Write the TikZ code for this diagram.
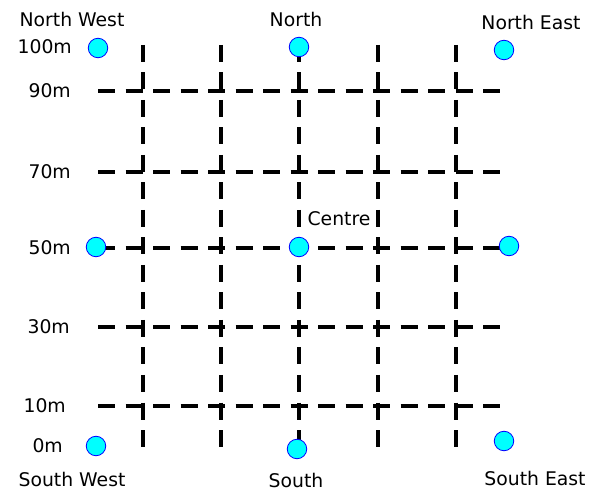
\documentclass[tikz,border=0pt]{standalone}
\usepackage{fontspec}
\setmainfont{DejaVu Sans}
\definecolor{aqua}{RGB}{0,255,255}
\definecolor{ringblue}{RGB}{0,0,255}
\begin{document}
\begin{tikzpicture}[x=1pt,y=-1pt,
  gridline/.style={line width=4pt,dash pattern=on 17pt off 10.5pt,black},
  station/.style={circle,draw=ringblue,fill=aqua,line width=0.8pt,minimum size=19.5pt,inner sep=0pt},
  lbl/.style={font=\fontsize{18.8}{21}\selectfont,inner sep=0pt,text=black}]
\useasboundingbox (0,0) rectangle (590,492);
% grid
\foreach \y in {91,172,248,327,406} \draw[gridline] (98,\y) -- (501,\y);
\foreach \x in {143,221,299,378,456} \draw[gridline] (\x,45) -- (\x,451);
% stations
\node[station] (nw) at (98,48) {};
\node[station] (n) at (299,47) {};
\node[station] (ne) at (504,50) {};
\node[station] (w) at (96,247) {};
\node[station] (c) at (299,247) {};
\node[station] (e) at (509,246) {};
\node[station] (sw) at (96,446) {};
\node[station] (s) at (297,449) {};
\node[station] (se) at (504,441) {};
% names
\node[lbl] (lnw) at (72,19) {North West};
\node[lbl] (ln) at (296,19) {North};
\node[lbl] (lne) at (531,22) {North East};
\node[lbl] (lc) at (339,219) {Centre};
\node[lbl] (lsw) at (72,479.5) {South West};
\node[lbl] (ls) at (296,480) {South};
\node[lbl] (lse) at (535,478) {South East};
% heights
\node[lbl,anchor=east] (h100) at (72,47) {100m};
\node[lbl,anchor=east] (h90) at (71,91) {90m};
\node[lbl,anchor=east] (h70) at (71,172) {70m};
\node[lbl,anchor=east] (h50) at (71,248) {50m};
\node[lbl,anchor=east] (h30) at (70,327) {30m};
\node[lbl,anchor=east] (h10) at (66,406) {10m};
\node[lbl,anchor=east] (h0) at (63,446) {0m};
\end{tikzpicture}
\end{document}
